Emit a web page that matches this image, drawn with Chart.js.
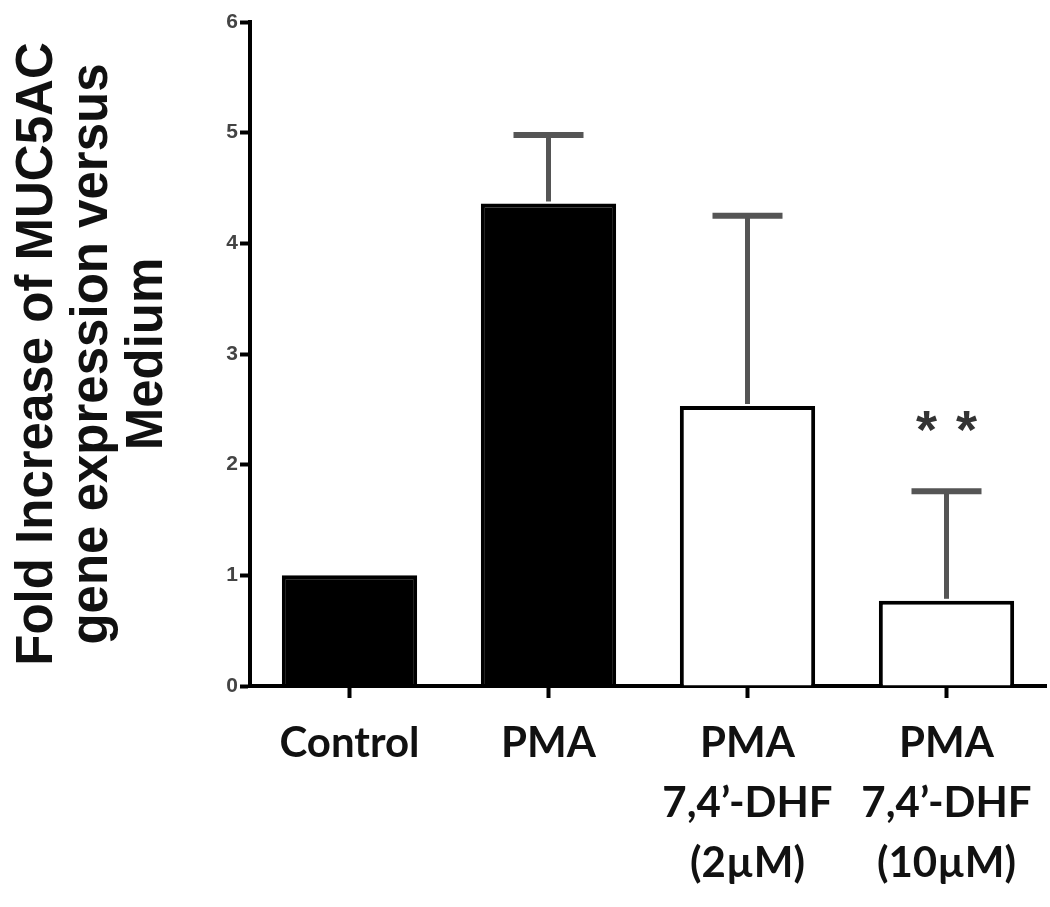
<!DOCTYPE html>
<html>
<head>
<meta charset="utf-8">
<script src="https://cdn.jsdelivr.net/npm/chart.js"></script>
<style>
  html, body { margin: 0; background: #fff; }
  #wrap { width: 1050px; height: 907px; }
</style>
</head>
<body>
<div id="wrap"><canvas id="chart"></canvas></div>
<script>
// Data
const categories = [
    ['Control'],
    ['PMA'],
    ['PMA', '7,4\u2019-DHF', '(2\u00b5M)'],
    ['PMA', '7,4\u2019-DHF', '(10\u00b5M)']
];
const means = [1.0, 4.36, 2.53, 0.77];
const errors = [0, 0.62, 1.72, 0.99];
const fills = ['#000000', '#000000', '#ffffff', '#ffffff'];
const yTicks = [0, 1, 2, 3, 4, 5, 6];
const starIndex = 3;
const starValue = 2.4;

// Upward-only error bars plus the significance mark
const errorBarPlugin = {
    id: 'errorBars',
    afterDatasetsDraw(chart) {
        const ctx = chart.ctx;
        const y = chart.scales.y;
        const meta = chart.getDatasetMeta(0);
        ctx.save();
        meta.data.forEach((bar, i) => {
            if (!errors[i]) return;
            const yBar = y.getPixelForValue(means[i]);
            const yTop = y.getPixelForValue(means[i] + errors[i]);
            ctx.strokeStyle = '#555';
            ctx.lineWidth = 5;
            ctx.beginPath();
            ctx.moveTo(bar.x, yBar - 2);
            ctx.lineTo(bar.x, yTop);
            ctx.stroke();
            ctx.lineWidth = 6;
            ctx.beginPath();
            ctx.moveTo(bar.x - 35, yTop);
            ctx.lineTo(bar.x + 35, yTop);
            ctx.stroke();
        });

        const sb = meta.data[starIndex];
        const sy = y.getPixelForValue(starValue);
        ctx.fillStyle = '#333';
        ctx.font = 'bold 54px "Liberation Sans"';
        ctx.textAlign = 'center';
        ctx.textBaseline = 'top';
        ctx.fillText('*', sb.x - 20, sy - 14);
        ctx.fillText('*', sb.x + 20, sy - 14);
        ctx.restore();
    }
};

const ctx = document.getElementById('chart').getContext('2d');
const chart = new Chart(ctx, {
    type: 'bar',
    data: {
        labels: categories,
        datasets: [{
            data: means,
            backgroundColor: fills,
            borderColor: '#000',
            borderWidth: 4,
            barPercentage: 0.68,
            categoryPercentage: 1
        }]
    },
    options: {
        responsive: true,
        maintainAspectRatio: false,
        animation: false,
        layout: { padding: { top: 22, right: 4, left: 0, bottom: 0 } },
        plugins: {
            legend: { display: false },
            tooltip: { enabled: false }
        },
        scales: {
            x: {
                grid: {
                    display: true,
                    drawOnChartArea: false,
                    drawTicks: true,
                    offset: false,
                    tickLength: 12,
                    tickColor: '#000',
                    tickWidth: 4
                },
                border: { display: true, color: '#000', width: 4 },
                ticks: {
                    color: '#111',
                    font: { family: 'Lato', weight: 'bold', size: 42, lineHeight: 1.42 },
                    padding: 16,
                    maxRotation: 0,
                    autoSkip: false
                },
                afterFit(scale) { scale.height = 907 - 686; }
            },
            y: {
                min: 0,
                max: 6,
                afterBuildTicks(scale) {
                    scale.ticks = yTicks.map(v => ({ value: v }));
                },
                grid: {
                    display: true,
                    drawOnChartArea: false,
                    drawTicks: true,
                    tickLength: 10,
                    tickColor: '#000',
                    tickWidth: 4
                },
                border: { display: true, color: '#000', width: 4 },
                ticks: {
                    color: '#444',
                    font: { family: 'Liberation Sans', weight: 'bold', size: 21 },
                    padding: 2
                },
                title: {
                    display: true,
                    text: ['Fold Increase of MUC5AC', 'gene expression versus', 'Medium'],
                    color: '#111',
                    font: { family: 'Liberation Sans', weight: 'bold', size: 51, lineHeight: 1.08 },
                    padding: { top: 10, bottom: 0 }
                },
                afterFit(scale) { scale.width = 250; }
            }
        }
    },
    plugins: [errorBarPlugin]
});
</script>
</body>
</html>
